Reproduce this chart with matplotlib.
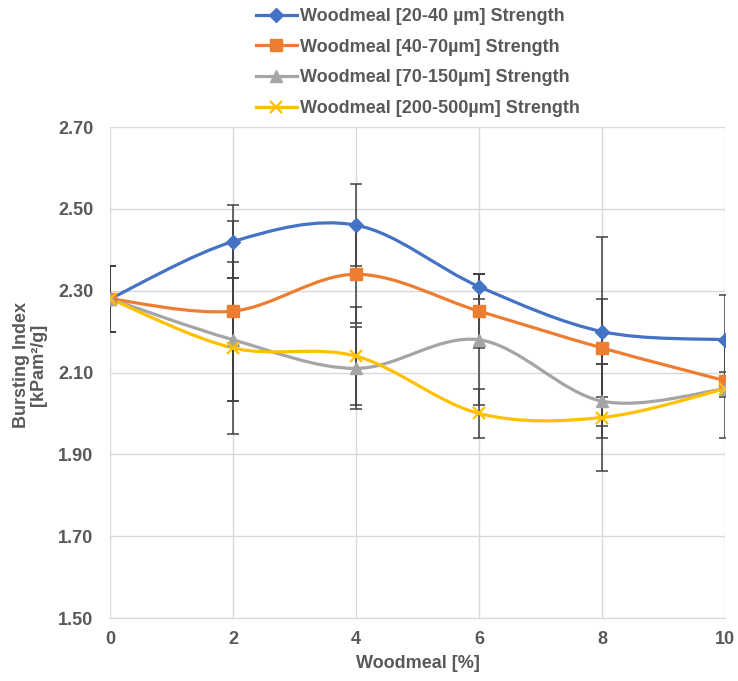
import numpy as np
import matplotlib
matplotlib.use("Agg")
import matplotlib.pyplot as plt
from matplotlib.path import Path
from matplotlib.patches import PathPatch
from matplotlib.lines import Line2D

plt.rcParams['font.family'] = ['Liberation Sans', 'DejaVu Sans']

# Data
woodmeal = [0, 2, 4, 6, 8, 10]
labels = ['Woodmeal [20-40 µm] Strength', 'Woodmeal [40-70µm] Strength',
          'Woodmeal [70-150µm] Strength', 'Woodmeal [200-500µm] Strength']
s_20_40 = [2.28, 2.42, 2.46, 2.31, 2.20, 2.18]
s_40_70 = [2.28, 2.25, 2.34, 2.25, 2.16, 2.08]
s_70_150 = [2.28, 2.18, 2.11, 2.18, 2.03, 2.06]
s_200_500 = [2.28, 2.16, 2.14, 2.00, 1.99, 2.06]
err_20_40 = [0.08, 0.09, 0.10, 0.03, 0.23, 0.11]
err_40_70 = [0.08, 0.22, 0.12, 0.09, 0.12, 0.02]
err_70_150 = [0.08, 0.15, 0.10, 0.16, 0.09, 0.12]
err_200_500 = [0.08, 0.21, 0.12, 0.06, 0.13, 0.02]

series = [s_20_40, s_40_70, s_70_150, s_200_500]
errors = [err_20_40, err_40_70, err_70_150, err_200_500]
colors = ['#4472C4', '#ED7D31', '#A5A5A5', '#FFC000']
markers = ['D', 's', '^', 'x']
msizes = [7, 9, 8, 8]
FS = 13


def smooth_path(x, y):
    # Excel-style smoothed line: cubic Bezier segments with Catmull-Rom handles
    pts = np.column_stack([x, y]).astype(float)
    n = len(pts)
    verts = [pts[0]]
    codes = [Path.MOVETO]
    for i in range(n - 1):
        p0 = pts[max(i - 1, 0)]
        p1 = pts[i]
        p2 = pts[i + 1]
        p3 = pts[min(i + 2, n - 1)]
        c1 = p1 + (p2 - p0) / 6.0
        c2 = p2 - (p3 - p1) / 6.0
        verts += [c1, c2, p2]
        codes += [Path.CURVE4] * 3
    return Path(verts, codes)


fig = plt.figure(figsize=(7.38, 6.81), dpi=100)
ax = fig.add_axes([110 / 738, 1 - 618 / 681, 615 / 738, 491 / 681])

for ys, es, c, m, ms in zip(series, errors, colors, markers, msizes):
    ax.errorbar(woodmeal, ys, yerr=es, fmt='none', ecolor='#404040',
                elinewidth=1.1, capsize=4, capthick=1.1, zorder=2)
    ax.add_patch(PathPatch(smooth_path(woodmeal, ys), fill=False,
                           edgecolor=c, lw=2.3, zorder=3))
    ax.plot(woodmeal, ys, linestyle='none', marker=m, color=c, markersize=ms,
            markeredgewidth=1.6 if m == 'x' else 1, zorder=4)

ax.set_xlim(0, 10)
ax.set_ylim(1.5, 2.7)
ax.set_xticks(woodmeal)
ax.set_yticks(np.arange(1.5, 2.71, 0.2))
ax.set_yticklabels([f'{v:.2f}' for v in np.arange(1.5, 2.71, 0.2)])
ax.grid(True, color='#D9D9D9', lw=1)
ax.set_axisbelow(True)
for side in ['top', 'right', 'left']:
    ax.spines[side].set_visible(False)
ax.spines['bottom'].set_color('#D9D9D9')
ax.tick_params(length=0, labelsize=FS, labelcolor='#595959')
ax.tick_params(axis='y', pad=12)
ax.tick_params(axis='x', pad=9)
for t in ax.get_xticklabels() + ax.get_yticklabels():
    t.set_fontweight('bold')

fig.text(418 / 738, 1 - 663 / 681, 'Woodmeal [%]', ha='center', va='center',
         fontsize=FS, fontweight='bold', color='#595959')
fig.text(30 / 738, 1 - 365 / 681, 'Bursting Index\n[kPam²/g]', ha='center',
         va='center', rotation=90, fontsize=FS, fontweight='bold',
         color='#595959', linespacing=1.0)

handles = [Line2D([], [], color=c, marker=m, lw=2.3, markersize=ms,
                  markeredgewidth=1.6 if m == 'x' else 1)
           for c, m, ms in zip(colors, markers, msizes)]
leg = fig.legend(handles, labels, loc='upper left',
                 bbox_to_anchor=(256 / 738, 1 - 8 / 681), frameon=False,
                 fontsize=FS, handlelength=2.25, handletextpad=0.2,
                 labelspacing=0.76, borderpad=0, borderaxespad=0)
for t in leg.get_texts():
    t.set_fontweight('bold')
    t.set_color('#595959')

fig.savefig('out.png', dpi=100)
